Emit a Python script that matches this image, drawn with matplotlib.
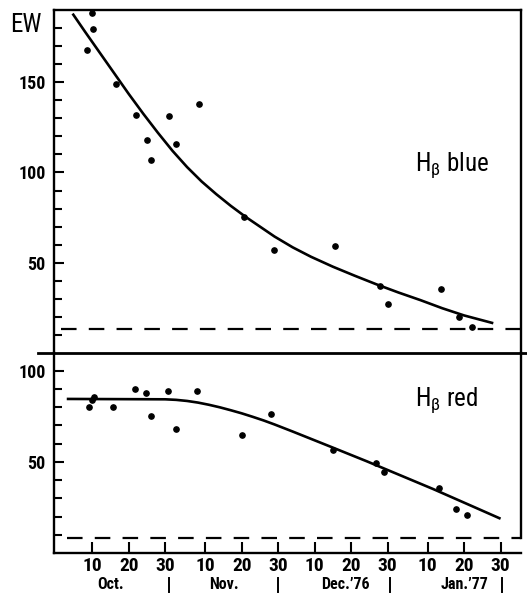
import matplotlib
matplotlib.use("Agg")
import matplotlib.pyplot as plt
from matplotlib.lines import Line2D
from matplotlib import font_manager as fm

# ---------------- data (day number counted from 1 Oct 1976 = 1) ----------------
blue_day = [9.9, 10.2, 8.6, 16.5, 21.9, 24.9, 26.0, 31.1, 33.0, 39.3,
            51.5, 59.8, 76.6, 88.9, 91.0, 105.7, 110.7, 114.1]
blue_ew = [188.2, 179.4, 167.8, 148.9, 132.0, 117.9, 106.8, 131.1, 115.7, 138.2,
           75.2, 57.0, 59.4, 36.9, 27.0, 35.2, 20.0, 14.6]

blue_fit_day = [4.6, 8, 12, 16, 20, 24, 28, 32, 36, 40, 44, 48, 52, 56, 60, 65,
                70, 76, 82, 88, 94, 100, 106, 112, 120]
blue_fit_ew = [188, 178, 166.5, 155, 143.5, 132.5, 122, 112, 103, 95, 88, 81.5,
               75.5, 70, 64.5, 58.5, 53.3, 47.8, 42.8, 38, 33.5, 29.3, 24.8, 20.8, 16.5]
blue_base = 13.3

red_day = [9.0, 10.0, 10.5, 15.8, 21.8, 24.7, 26.0, 30.8, 33.0, 38.7,
           51.0, 59.1, 75.9, 87.9, 90.0, 105.0, 109.7, 112.8]
red_ew = [80.3, 84.0, 85.5, 80.0, 90.2, 88.0, 75.3, 89.1, 68.2, 89.1,
          64.5, 76.5, 56.5, 49.2, 44.5, 35.6, 24.3, 20.9]

red_fit_day = [3, 30, 33, 36, 39, 42, 45, 48, 51, 54, 57, 60, 65, 76, 85.3,
               94.4, 103.6, 112.7, 122]
red_fit_ew = [84.5, 84.3, 84.0, 83.4, 82.5, 81.3, 79.9, 78.3, 76.6, 74.7, 72.7,
              70.5, 66.6, 57.8, 50.3, 42.7, 35.0, 27.0, 18.8]
red_base = 8.5

x_tick_days = [10, 20, 30, 41, 51, 61, 71, 81, 91, 102, 112, 122]
x_tick_labels = ["10", "20", "30"] * 4
month_labels = ["Oct.", "Nov.", "Dec.\u201976", "Jan.\u201977"]
month_label_days = [15, 46, 79.5, 112]
month_sep_days = [31.0, 61.0, 91.6, 122.3]

# ---------------- fonts ----------------
flist = fm.fontManager.ttflist
names = {f.name for f in flist}
FONT = None
STRETCH = "normal"
for cand in ["Liberation Sans Narrow", "Roboto Condensed", "Open Sans Condensed",
             "Noto Sans Condensed", "DejaVu Sans Condensed"]:
    if cand in names:
        FONT = cand
        break
if FONT is None:
    if any(f.name == "DejaVu Sans" and "Condensed" in f.fname for f in flist):
        FONT = "DejaVu Sans"
        STRETCH = "condensed"
    elif "Roboto" in names:
        FONT = "Roboto"
    else:
        FONT = "DejaVu Sans"

plt.rcParams["font.family"] = [FONT, "DejaVu Sans"]
plt.rcParams["font.stretch"] = STRETCH
plt.rcParams["mathtext.fontset"] = "custom"
plt.rcParams["mathtext.rm"] = FONT
plt.rcParams["mathtext.it"] = FONT
plt.rcParams["mathtext.bf"] = FONT + ":bold"

W, H = 527, 593
fig = plt.figure(figsize=(W / 100, H / 100), dpi=100)

def fx(px):
    return px / W

def fy(py):
    return 1 - py / H

L, R = 54, 521
TOP, MID, BOT = 10, 353, 553
SPW = 1.7
LW = 1.9
TW = "bold"

ax1 = fig.add_axes([fx(L), fy(MID), fx(R - L), (MID - TOP) / H])
ax2 = fig.add_axes([fx(L), fy(BOT), fx(R - L), (BOT - MID) / H])

XL = (-0.5, 127.6)
for ax in (ax1, ax2):
    ax.set_xlim(*XL)
    for s in ax.spines.values():
        s.set_linewidth(SPW)
    ax.tick_params(axis="y", which="both", direction="in", width=1.5,
                   labelsize=13, pad=6, right=False)
    ax.tick_params(axis="y", which="major", length=7)
    ax.tick_params(axis="y", which="minor", length=6)

# top panel
ax1.set_ylim(0, 190)
ax1.spines["bottom"].set_visible(False)
ax1.set_yticks([50, 100, 150])
ax1.set_yticks(list(range(10, 190, 10)), minor=True)
ax1.set_xticks([])
ax1.plot(blue_fit_day, blue_fit_ew, color="black", lw=LW, solid_capstyle="butt",
         solid_joinstyle="round")
ax1.plot(blue_day, blue_ew, "o", color="black", ms=3.8, clip_on=False)
ax1.plot([1.5, XL[1]], [blue_base, blue_base], color="black", lw=1.6,
         dashes=(7, 5.5))
ax1.text(0.852, 0.548, r"H$_{\beta}$ blue", transform=ax1.transAxes,
         fontsize=18, ha="center", va="center")

# bottom panel
ax2.set_ylim(0, 109.7)
ax2.spines["top"].set_visible(False)
ax2.spines["right"].set_bounds(red_base, 109.7)
ax2.set_yticks([50, 100])
ax2.set_yticks(list(range(10, 110, 10)), minor=True)
ax2.set_xticks(x_tick_days)
ax2.set_xticklabels(x_tick_labels)
ax2.tick_params(axis="x", direction="in", length=8, width=1.5, labelsize=14, pad=3,
                top=False)
for ax in (ax1, ax2):
    for lab in ax.get_yticklabels() + ax.get_xticklabels():
        lab.set_fontweight(TW)
ax2.plot(red_fit_day, red_fit_ew, color="black", lw=LW, solid_capstyle="butt",
         solid_joinstyle="round")
ax2.plot(red_day, red_ew, "o", color="black", ms=3.8)
ax2.plot([3.0, XL[1]], [red_base, red_base], color="black", lw=1.6,
         dashes=(7, 5.5))
ax2.text(0.84, 0.765, r"H$_{\beta}$ red", transform=ax2.transAxes,
         fontsize=18, ha="center", va="center")

trans = ax2.get_xaxis_transform()
for d, lab in zip(month_label_days, month_labels):
    ax2.text(d, -0.197, lab, transform=trans, ha="center", va="bottom",
             fontsize=11.5, fontweight=TW, clip_on=False)
for d in month_sep_days:
    ax2.add_line(Line2D([d, d], [-0.125, -0.195], transform=trans, color="black",
                        lw=1.4, clip_on=False))

# divider between panels
fig.add_artist(Line2D([fx(38), 1.0], [fy(MID), fy(MID)], color="black", lw=2.0))

fig.text(fx(26), fy(25), "EW", fontsize=18, ha="center", va="center")

fig.savefig("out.png", dpi=100)
